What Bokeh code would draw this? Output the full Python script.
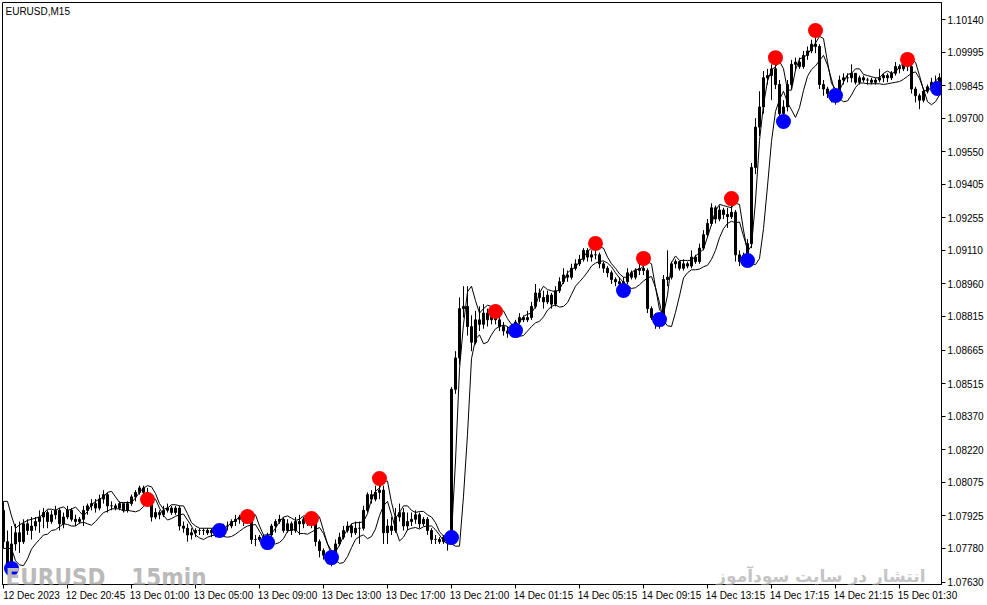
from bokeh.plotting import figure
from bokeh.models import FixedTicker, PrintfTickFormatter, Label, ColumnDataSource
from bokeh.embed import file_html
from bokeh.resources import INLINE

# ---------------- data (EURUSD M15) ----------------
open_first = 1.0795
close = [
    1.0781, 1.0770, 1.0780, 1.0785, 1.0781, 1.0789, 1.0786, 1.0788, 1.0790, 1.0792,
    1.0794, 1.0790, 1.0793, 1.0795, 1.0789, 1.0792, 1.0795, 1.0791, 1.0790, 1.0791,
    1.0795, 1.0797, 1.0798, 1.0796, 1.0800, 1.0802, 1.0797, 1.0797, 1.0796, 1.0798,
    1.0795, 1.0798, 1.0801, 1.0803, 1.0805, 1.0803, 1.0799, 1.0792, 1.0794, 1.0793,
    1.0795, 1.0796, 1.0794, 1.0796, 1.0788, 1.0787, 1.0784, 1.0785, 1.0786, 1.0786,
    1.0786, 1.0785, 1.0786, 1.0785, 1.0786, 1.0788, 1.0788, 1.0790, 1.0791, 1.0792,
    1.0790, 1.0791, 1.0782, 1.0782, 1.0783, 1.0781, 1.0784, 1.0788, 1.0790, 1.0791,
    1.0786, 1.0789, 1.0786, 1.0790, 1.0789, 1.0791, 1.0792, 1.0789, 1.0781, 1.0777,
    1.0775, 1.0773, 1.0775, 1.0780, 1.0783, 1.0786, 1.0788, 1.0785, 1.0787, 1.0787,
    1.0795, 1.0802, 1.0800, 1.0803, 1.0804, 1.0785, 1.0788, 1.0786, 1.0792, 1.0794,
    1.0788, 1.0790, 1.0791, 1.0793, 1.0789, 1.0791, 1.0786, 1.0782, 1.0782, 1.0781,
    1.0783, 1.0782, 1.0849, 1.0863, 1.0885, 1.0886, 1.0877, 1.0870, 1.0880, 1.0878,
    1.0883, 1.0880, 1.0882, 1.0880, 1.0877, 1.0875, 1.0874, 1.0876, 1.0879, 1.0881,
    1.0880, 1.0881, 1.0886, 1.0892, 1.0890, 1.0888, 1.0891, 1.0887, 1.0893, 1.0897,
    1.0900, 1.0899, 1.0903, 1.0905, 1.0907, 1.0911, 1.0908, 1.0909, 1.0909, 1.0905,
    1.0903, 1.0901, 1.0898, 1.0897, 1.0896, 1.0897, 1.0901, 1.0899, 1.0902, 1.0903,
    1.0902, 1.0885, 1.0881, 1.0879, 1.0880, 1.0898, 1.0899, 1.0905, 1.0906, 1.0903,
    1.0905, 1.0904, 1.0908, 1.0906, 1.0912, 1.0918, 1.0923, 1.0930, 1.0925, 1.0929,
    1.0927, 1.0926, 1.0928, 1.0909, 1.0906, 1.0908, 1.0914, 1.0948, 1.0966, 1.0975,
    1.0988, 1.0989, 1.0992, 1.0985, 1.0972, 1.0975, 1.0985, 1.0994, 1.0995, 1.0993,
    1.0998, 1.1000, 1.1003, 1.1002, 1.0985, 1.0983, 1.0981, 1.0979, 1.0981, 1.0987,
    1.0988, 1.0988, 1.0990, 1.0986, 1.0988, 1.0987, 1.0987, 1.0986, 1.0987, 1.0988,
    1.0989, 1.0988, 1.0990, 1.0993, 1.0992, 1.0995, 1.0993, 1.0983, 1.0980, 1.0978,
    1.0982, 1.0984, 1.0986, 1.0986, 1.0988,
]
high = [
    1.0799, 1.0786, 1.0788, 1.0789, 1.0790, 1.0791, 1.0791, 1.0792, 1.0792, 1.0795,
    1.0796, 1.0795, 1.0795, 1.0797, 1.0796, 1.0794, 1.0797, 1.0796, 1.0793, 1.0792,
    1.0797, 1.0798, 1.0800, 1.0800, 1.0802, 1.0804, 1.0803, 1.0799, 1.0798, 1.0799,
    1.0798, 1.0799, 1.0802, 1.0804, 1.0806, 1.0806, 1.0805, 1.0800, 1.0796, 1.0795,
    1.0797, 1.0798, 1.0797, 1.0797, 1.0797, 1.0790, 1.0789, 1.0787, 1.0787, 1.0787,
    1.0787, 1.0787, 1.0787, 1.0786, 1.0787, 1.0789, 1.0790, 1.0791, 1.0793, 1.0793,
    1.0793, 1.0794, 1.0792, 1.0784, 1.0784, 1.0784, 1.0785, 1.0789, 1.0791, 1.0793,
    1.0792, 1.0791, 1.0790, 1.0792, 1.0793, 1.0792, 1.0793, 1.0794, 1.0790, 1.0782,
    1.0778, 1.0776, 1.0777, 1.0782, 1.0785, 1.0788, 1.0790, 1.0789, 1.0790, 1.0790,
    1.0797, 1.0803, 1.0804, 1.0806, 1.0810, 1.0806, 1.0791, 1.0792, 1.0796, 1.0798,
    1.0796, 1.0794, 1.0794, 1.0795, 1.0794, 1.0792, 1.0792, 1.0787, 1.0784, 1.0783,
    1.0784, 1.0784, 1.0850, 1.0866, 1.0890, 1.0895, 1.0895, 1.0882, 1.0884, 1.0886,
    1.0887, 1.0885, 1.0884, 1.0886, 1.0882, 1.0879, 1.0877, 1.0878, 1.0880, 1.0883,
    1.0882, 1.0884, 1.0888, 1.0896, 1.0894, 1.0893, 1.0893, 1.0892, 1.0895, 1.0899,
    1.0903, 1.0902, 1.0905, 1.0907, 1.0909, 1.0912, 1.0912, 1.0911, 1.0914, 1.0910,
    1.0906, 1.0904, 1.0902, 1.0899, 1.0899, 1.0899, 1.0903, 1.0902, 1.0903, 1.0905,
    1.0907, 1.0903, 1.0886, 1.0883, 1.0882, 1.0900, 1.0911, 1.0906, 1.0907, 1.0906,
    1.0907, 1.0906, 1.0911, 1.0909, 1.0914, 1.0920, 1.0925, 1.0932, 1.0931, 1.0931,
    1.0930, 1.0930, 1.0934, 1.0929, 1.0911, 1.0910, 1.0916, 1.0950, 1.0970, 1.0982,
    1.0991, 1.0992, 1.0994, 1.0997, 1.0987, 1.0978, 1.0987, 1.0996, 1.0997, 1.0997,
    1.1000, 1.1002, 1.1005, 1.1008, 1.1003, 1.0987, 1.0984, 1.0982, 1.0983, 1.0989,
    1.0990, 1.0990, 1.0994, 1.0990, 1.0989, 1.0989, 1.0988, 1.0988, 1.0988, 1.0992,
    1.0990, 1.0990, 1.0991, 1.0995, 1.0994, 1.0996, 1.0996, 1.0994, 1.0984, 1.0981,
    1.0983, 1.0985, 1.0988, 1.0989, 1.0990,
]
low = [
    1.0778, 1.0767, 1.0767, 1.0777, 1.0776, 1.0780, 1.0784, 1.0782, 1.0786, 1.0785,
    1.0787, 1.0787, 1.0789, 1.0791, 1.0786, 1.0787, 1.0791, 1.0790, 1.0788, 1.0789,
    1.0788, 1.0793, 1.0795, 1.0794, 1.0795, 1.0798, 1.0794, 1.0795, 1.0795, 1.0795,
    1.0794, 1.0794, 1.0797, 1.0799, 1.0802, 1.0801, 1.0797, 1.0790, 1.0791, 1.0791,
    1.0792, 1.0794, 1.0793, 1.0793, 1.0786, 1.0785, 1.0781, 1.0782, 1.0783, 1.0784,
    1.0784, 1.0784, 1.0783, 1.0783, 1.0783, 1.0784, 1.0786, 1.0787, 1.0788, 1.0789,
    1.0788, 1.0789, 1.0780, 1.0779, 1.0781, 1.0780, 1.0779, 1.0783, 1.0785, 1.0789,
    1.0785, 1.0785, 1.0784, 1.0785, 1.0784, 1.0787, 1.0788, 1.0787, 1.0779, 1.0774,
    1.0773, 1.0771, 1.0770, 1.0774, 1.0779, 1.0782, 1.0785, 1.0783, 1.0784, 1.0780,
    1.0786, 1.0794, 1.0798, 1.0799, 1.0800, 1.0780, 1.0780, 1.0784, 1.0785, 1.0790,
    1.0786, 1.0786, 1.0788, 1.0789, 1.0787, 1.0788, 1.0784, 1.0780, 1.0780, 1.0780,
    1.0780, 1.0777, 1.0780, 1.0847, 1.0860, 1.0881, 1.0873, 1.0866, 1.0869, 1.0875,
    1.0876, 1.0877, 1.0878, 1.0878, 1.0875, 1.0873, 1.0872, 1.0873, 1.0874, 1.0878,
    1.0879, 1.0879, 1.0880, 1.0885, 1.0888, 1.0885, 1.0887, 1.0885, 1.0886, 1.0892,
    1.0896, 1.0897, 1.0898, 1.0902, 1.0904, 1.0906, 1.0906, 1.0906, 1.0907, 1.0903,
    1.0901, 1.0899, 1.0896, 1.0895, 1.0894, 1.0893, 1.0896, 1.0898, 1.0898, 1.0900,
    1.0900, 1.0883, 1.0880, 1.0876, 1.0876, 1.0879, 1.0895, 1.0898, 1.0903, 1.0902,
    1.0902, 1.0903, 1.0903, 1.0905, 1.0905, 1.0911, 1.0917, 1.0922, 1.0923, 1.0924,
    1.0925, 1.0921, 1.0925, 1.0906, 1.0904, 1.0905, 1.0905, 1.0912, 1.0945, 1.0962,
    1.0972, 1.0985, 1.0978, 1.0983, 1.0970, 1.0968, 1.0973, 1.0983, 1.0991, 1.0992,
    1.0992, 1.0996, 1.0999, 1.0999, 1.0983, 1.0980, 1.0979, 1.0977, 1.0976, 1.0980,
    1.0985, 1.0986, 1.0986, 1.0985, 1.0985, 1.0986, 1.0985, 1.0985, 1.0985, 1.0986,
    1.0986, 1.0986, 1.0987, 1.0989, 1.0990, 1.0991, 1.0991, 1.0981, 1.0977, 1.0974,
    1.0977, 1.0981, 1.0983, 1.0983, 1.0985,
]

# swing points (bar index, price)
red_idx = [36, 61, 77, 94, 123, 148, 160, 182, 193, 203, 226]
red_price = [1.07998, 1.07922, 1.07913, 1.08092, 1.08837, 1.09141, 1.09074,
             1.09341, 1.09970, 1.10091, 1.09962]
blue_idx = [2, 54, 66, 82, 112, 128, 155, 164, 186, 195, 208, 233.5]
blue_price = [1.07690, 1.07860, 1.07806, 1.07739, 1.07829, 1.08752, 1.08931,
              1.08801, 1.09065, 1.09685, 1.09801, 1.09832]

# axes
y_ticks = [1.07630, 1.07780, 1.07925, 1.08075, 1.08220, 1.08370, 1.08515, 1.08665,
           1.08815, 1.08960, 1.09110, 1.09255, 1.09405, 1.09550, 1.09700, 1.09845,
           1.09995, 1.10140]
x_tick_bars = [0, 16, 32, 48, 64, 80, 96, 112, 128, 144, 160, 176, 192, 208, 224]
x_tick_labels = ["12 Dec 2023", "12 Dec 20:45", "13 Dec 01:00", "13 Dec 05:00",
                 "13 Dec 09:00", "13 Dec 13:00", "13 Dec 17:00", "13 Dec 21:00",
                 "14 Dec 01:15", "14 Dec 05:15", "14 Dec 09:15", "14 Dec 13:15",
                 "14 Dec 17:15", "14 Dec 21:15", "15 Dec 01:30"]

# ---------------- derived ----------------
n = len(close)
idx = list(range(n))
opn = [open_first] + close[:-1]
hi = [max(high[i], opn[i], close[i]) for i in idx]
lo = [min(low[i], opn[i], close[i]) for i in idx]
top = [max(opn[i], close[i]) for i in idx]
bot = [min(opn[i], close[i]) for i in idx]

# channel lines (moving averages of highs and lows, lagged)
upper = []
lower = []
for i in idx:
    w = high[max(0, i - 2):max(1, i)]
    upper.append(sum(w) / len(w))
    w2 = low[max(0, i - 4):max(1, i - 1)]
    lower.append(sum(w2) / len(w2))

src = ColumnDataSource(dict(x=idx, hi=hi, lo=lo, top=top, bot=bot,
                            upper=upper, lower=lower))

# ---------------- figure ----------------
p = figure(width=987, height=605, x_range=(-0.25, 234.5), y_range=(1.07619, 1.10216),
           output_backend="svg", toolbar_location=None, y_axis_location="right",
           min_border_left=2, min_border_right=46, min_border_top=2, min_border_bottom=21,
           background_fill_color="white", border_fill_color="white",
           outline_line_color="black", outline_line_width=1)
p.grid.visible = False

p.segment(x0="x", y0="hi", x1="x", y1="lo", source=src, line_color="black", line_width=1)
p.vbar(x="x", width=0.5, top="top", bottom="bot", source=src,
       fill_color="black", line_color="black", line_width=1)
p.line(x="x", y="upper", source=src, line_color="black", line_width=1)
p.line(x="x", y="lower", source=src, line_color="black", line_width=1)

p.scatter(red_idx, red_price, size=15, fill_color="#ff0000", line_color=None)
p.scatter(blue_idx, blue_price, size=15, fill_color="#0000ff", line_color=None)

# y axis (right)
ya = p.yaxis[0]
ya.ticker = FixedTicker(ticks=y_ticks)
ya.formatter = PrintfTickFormatter(format="%.5f")
ya.major_tick_out = 4
ya.major_tick_in = 0
ya.minor_tick_line_color = None
ya.major_label_standoff = 2
ya.axis_line_color = "black"
ya.major_label_text_font = "Liberation Sans"
ya.major_label_text_font_size = "10px"
ya.major_label_text_color = "black"

# x axis: labels start at the tick (label ticks shifted), marks drawn as minor ticks
xa = p.xaxis[0]
shift = 7
xa.ticker = FixedTicker(ticks=[b + shift for b in x_tick_bars], minor_ticks=x_tick_bars)
xa.major_label_overrides = {b + shift: lab for b, lab in zip(x_tick_bars, x_tick_labels)}
xa.major_tick_line_color = None
xa.major_tick_out = 4
xa.major_tick_in = 0
xa.minor_tick_line_color = "black"
xa.minor_tick_out = 4
xa.minor_tick_in = 0
xa.major_label_standoff = 1
xa.axis_line_color = "black"
xa.major_label_text_font = "Liberation Sans"
xa.major_label_text_font_size = "10px"
xa.major_label_text_color = "black"

# texts
p.add_layout(Label(x=3, y=579, x_units="screen", y_units="screen", text="EURUSD,M15",
                   text_font="Liberation Sans", text_font_size="10px", text_color="black",
                   text_baseline="top"))
p.add_layout(Label(x=0.5, y=1.07650, text="EURUSD _ 15min",
                   text_font="'DejaVu Sans Condensed', 'Liberation Sans'",
                   text_font_style="bold",
                   text_font_size="24px", text_color="#bababa", text_baseline="alphabetic"))
p.add_layout(Label(x=230.5, y=1.07658, text="انتشار در سایت سودآموز",
                   text_font="DejaVu Sans", text_font_style="bold",
                   text_font_size="17px", text_color="#c4c4c4", text_align="right",
                   text_baseline="alphabetic"))

open("out.html", "w").write(file_html(p, INLINE))
